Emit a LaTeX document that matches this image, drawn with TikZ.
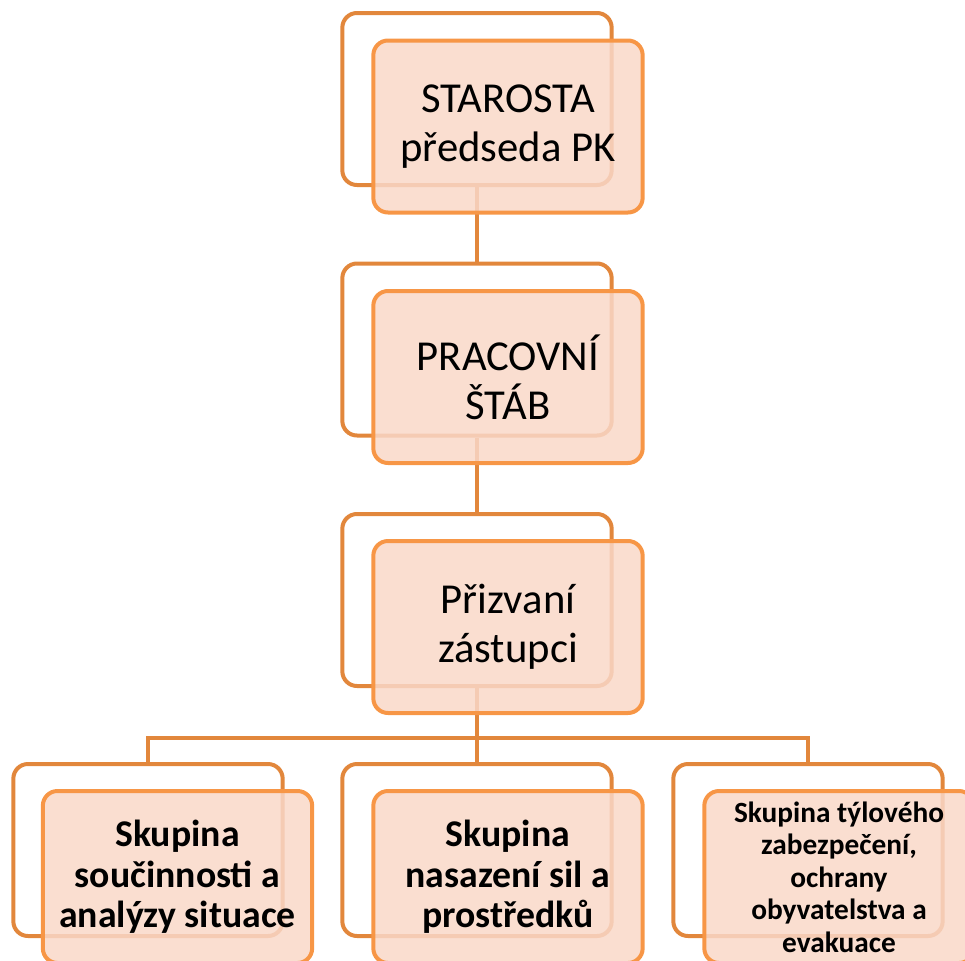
\documentclass[tikz,border=0pt]{standalone}
\usepackage{fontspec}
\setmainfont{Carlito}
\definecolor{lineor}{RGB}{226,135,60}
\definecolor{frontor}{RGB}{247,150,70}
\definecolor{fillor}{RGB}{249,216,200}
\begin{document}
\begin{tikzpicture}[x=0.75pt,y=-0.75pt,
    backbox/.style={draw=lineor,line width=3pt,rounded corners=11pt,
      minimum width=202pt,minimum height=129pt,inner sep=0pt},
    frontbox/.style={draw=frontor,line width=3pt,rounded corners=11pt,
      fill=fillor,fill opacity=0.85,text opacity=1,
      minimum width=202pt,minimum height=129pt,inner sep=0pt,align=center},
    bigtext/.style={font=\fontsize{32}{37}\selectfont},
    grouptext/.style={font=\bfseries\fontsize{28.3}{30.5}\selectfont},
    smalltext/.style={font=\bfseries\fontsize{22}{24.4}\selectfont},
    conn/.style={draw=lineor,line width=3pt}]
    \useasboundingbox (0,0) rectangle (965,961);
    % back boxes
    \node[backbox] (star-b) at (477,99) {};
    \node[backbox] (stab-b) at (477,349.5) {};
    \node[backbox] (zast-b) at (477,600) {};
    \node[backbox] (sk1-b) at (148,850) {};
    \node[backbox] (sk2-b) at (477,850) {};
    \node[backbox] (sk3-b) at (808,850) {};
    % connectors
    \coordinate (bar) at (477,738);
    \draw[conn] (star-b.south) -- (stab-b.north);
    \draw[conn] (stab-b.south) -- (zast-b.north);
    \draw[conn] (zast-b.south) -- (bar) -| (sk1-b.north);
    \draw[conn] (bar) -- (sk2-b.north);
    \draw[conn] (bar) -| (sk3-b.north);
    % front boxes
    \node[frontbox,bigtext] (star) at (508,126.5) {STAROSTA\\předseda PK};
    \node[frontbox,bigtext] (stab) at (508,377) {PRACOVNÍ\\ŠTÁB};
    \node[frontbox,bigtext] (zast) at (508,627) {Přizvaní\\zástupci};
    \node[frontbox,grouptext] (sk1) at (177.5,877) {Skupina\\součinnosti a\\analýzy situace};
    \node[frontbox,grouptext] (sk2) at (508,877) {Skupina\\nasazení sil a\\prostředků};
    \node[frontbox,smalltext] (sk3) at (839,877) {Skupina týlového\\zabezpečení,\\ochrany\\obyvatelstva a\\evakuace};
\end{tikzpicture}
\end{document}
